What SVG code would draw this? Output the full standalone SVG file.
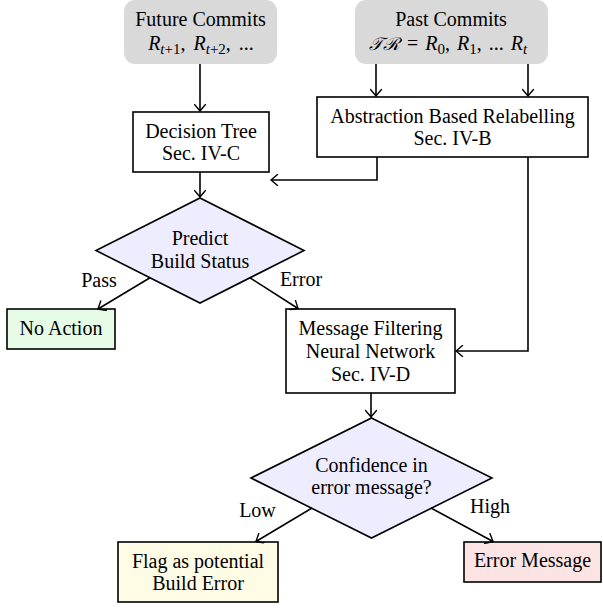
<svg xmlns="http://www.w3.org/2000/svg" width="603" height="608" viewBox="0 0 603 608">
<style>
text{font-family:"Liberation Serif","Times New Roman",serif;font-size:20px;fill:#000;text-anchor:middle}
.m{font-style:italic}
.s{font-size:15px}
.box{stroke:#000;stroke-width:1.6;fill:#fff}
.src{fill:#D9D9D9;stroke:none}
.dia{fill:#EDEDFF;stroke:#000;stroke-width:1.6}
.edge{fill:none;stroke:#000;stroke-width:1.6}
</style>
<defs>
<marker id="arr" viewBox="-8 -6 10 12" refX="0" refY="0" markerWidth="10" markerHeight="12" markerUnits="userSpaceOnUse" orient="auto">
<path d="M -6.5 -5.5 Q -1.5 -1.3 0 0 Q -1.5 1.3 -6.5 5.5" fill="none" stroke="#000" stroke-width="1.4" stroke-linecap="round"/>
</marker>
</defs>
<g id="future">
<rect class="src" x="124" y="0" width="153" height="64" rx="11"/>
<text x="200.5" y="26">Future Commits</text>
<text x="201" y="50" word-spacing="3"><tspan class="m">R</tspan><tspan class="s m" dy="4">t</tspan><tspan class="s" >+1</tspan><tspan dy="-4">, </tspan><tspan class="m">R</tspan><tspan class="s m" dy="4">t</tspan><tspan class="s">+2</tspan><tspan dy="-4">, ...</tspan></text>
</g>
<g id="past">
<rect class="src" x="355" y="0" width="193" height="64" rx="11"/>
<text x="451" y="26">Past Commits</text>
<text x="448" y="50" word-spacing="2"><tspan class="m" font-family="DejaVu Serif" font-size="18">𝒯ℛ</tspan> = <tspan class="m">R</tspan><tspan class="s" dy="4">0</tspan><tspan dy="-4">, </tspan><tspan class="m">R</tspan><tspan class="s" dy="4">1</tspan><tspan dy="-4">, ... </tspan><tspan class="m">R</tspan><tspan class="s m" dy="4">t</tspan></text>
</g>
<g id="dtree">
<rect class="box" x="133" y="112" width="136" height="60"/>
<text x="201" y="138">Decision Tree</text>
<text x="201" y="160">Sec. IV-C</text>
</g>
<g id="abstraction">
<rect class="box" x="317" y="97" width="271" height="60"/>
<text x="452.5" y="123">Abstraction Based Relabelling</text>
<text x="452.5" y="145">Sec. IV-B</text>
</g>
<g id="predict">
<polygon class="dia" points="200,198 304,250.5 200,303 96,250.5"/>
<text x="200" y="245">Predict</text>
<text x="200" y="268">Build Status</text>
</g>
<g id="noaction">
<rect class="box" x="7" y="309" width="108" height="40" style="fill:#E6FCE6"/>
<text x="61" y="335">No Action</text>
</g>
<g id="msgfilter">
<rect class="box" x="286" y="309" width="169" height="84"/>
<text x="370.5" y="335">Message Filtering</text>
<text x="370.5" y="358">Neural Network</text>
<text x="370.5" y="381">Sec. IV-D</text>
</g>
<g id="confidence">
<polygon class="dia" points="371.5,418 492,478 371.5,538 251,478"/>
<text x="371.5" y="472">Confidence in</text>
<text x="371.5" y="494">error message?</text>
</g>
<g id="flag">
<rect class="box" x="118" y="542" width="160" height="60" style="fill:#FFFCE6"/>
<text x="198" y="568">Flag as potential</text>
<text x="198" y="590">Build Error</text>
</g>
<g id="errmsg">
<rect class="box" x="464" y="542" width="137" height="40" style="fill:#FCE4E4"/>
<text x="532.5" y="567">Error Message</text>
</g>
<g id="connectors">
<path class="edge" d="M200,64 V111" marker-end="url(#arr)"/>
<path class="edge" d="M376,64 V96" marker-end="url(#arr)"/>
<path class="edge" d="M528,64 V96" marker-end="url(#arr)"/>
<path class="edge" d="M377,157 V180 H271" marker-end="url(#arr)"/>
<path class="edge" d="M528,157 V351 H456" marker-end="url(#arr)"/>
<path class="edge" d="M200,172 V197" marker-end="url(#arr)"/>
<path class="edge" d="M150,277.8 L98,309" marker-end="url(#arr)"/>
<path class="edge" d="M250,277.8 L298,308.5" marker-end="url(#arr)"/>
<path class="edge" d="M371,393 V417" marker-end="url(#arr)"/>
<path class="edge" d="M312,508 L256,541.5" marker-end="url(#arr)"/>
<path class="edge" d="M431,508 L493,541.5" marker-end="url(#arr)"/>
<text x="99" y="287">Pass</text>
<text x="301" y="286">Error</text>
<text x="257.5" y="517">Low</text>
<text x="490" y="513">High</text>
</g>
</svg>
